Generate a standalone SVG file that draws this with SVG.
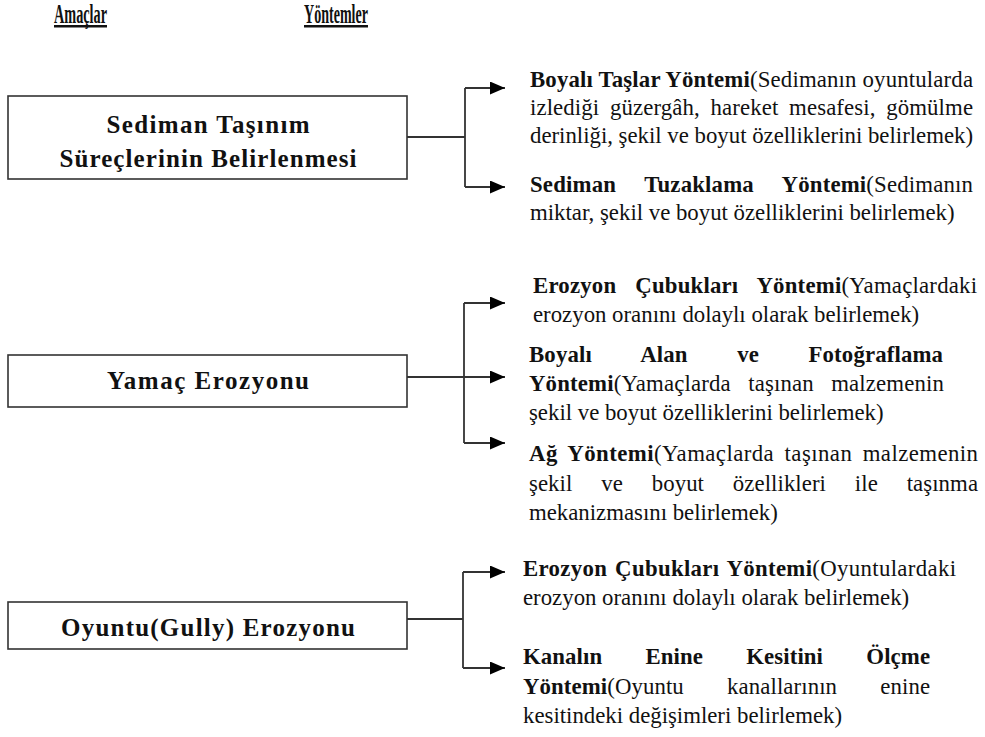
<svg xmlns="http://www.w3.org/2000/svg" width="985" height="737" viewBox="0 0 985 737">
<style>
.bx{fill:#fff;stroke:#333;stroke-width:1.6}
.c{fill:none;stroke:#333;stroke-width:1.8}
</style>
<defs>
<marker id="ah" markerUnits="userSpaceOnUse" markerWidth="16" markerHeight="13" refX="15" refY="6.5" orient="auto">
<path d="M0,0 L15,6.5 L0,13 z" fill="#000"/>
</marker>
</defs>
<rect width="985" height="737" fill="#fff"/>
<g id="headers" font-family="Liberation Serif, serif" font-weight="bold" font-size="28" fill="#111">
<text transform="translate(54,23) scale(0.509,1)">Amaçlar</text>
<rect x="54" y="25" width="53" height="2.5"/>
<text transform="translate(304,23) scale(0.502,1)">Yöntemler</text>
<rect x="304" y="25" width="64" height="2.5"/>
</g>
<g id="connectors">
<path class="c" d="M407,137 H465 M465,88 V187"/>
<path class="c" d="M465,88 H505" marker-end="url(#ah)"/>
<path class="c" d="M465,187 H505" marker-end="url(#ah)"/>
<path class="c" d="M407,377 H464 M464,303 V443"/>
<path class="c" d="M464,303 H505" marker-end="url(#ah)"/>
<path class="c" d="M464,377 H505" marker-end="url(#ah)"/>
<path class="c" d="M464,443 H505" marker-end="url(#ah)"/>
<path class="c" d="M407,619 H463 M463,572 V668"/>
<path class="c" d="M463,572 H505" marker-end="url(#ah)"/>
<path class="c" d="M463,668 H505" marker-end="url(#ah)"/>
</g>
<g font-family="Liberation Serif, serif" font-weight="bold" font-size="25" fill="#111" text-anchor="middle">
<g id="amac1">
<rect class="bx" x="8" y="96" width="399" height="83"/>
<text x="208" y="133" textLength="203">Sediman Taşınım</text>
<text x="208" y="167" textLength="297">Süreçlerinin Belirlenmesi</text>
</g>
<g id="amac2">
<rect class="bx" x="8" y="355" width="399" height="52"/>
<text x="208" y="389" textLength="202">Yamaç Erozyonu</text>
</g>
<g id="amac3">
<rect class="bx" x="8" y="602" width="399" height="47"/>
<text x="208" y="636" textLength="294">Oyuntu(Gully) Erozyonu</text>
</g>
</g>
<g font-family="Liberation Serif, serif" font-size="22.8" fill="#111">
<g id="yontem1a">
<text x="530" y="87" textLength="443"><tspan font-weight="bold">Boyalı Taşlar Yöntemi</tspan>(Sedimanın oyuntularda</text>
<text x="530" y="115" textLength="443" word-spacing="5">izlediği güzergâh, hareket mesafesi, gömülme</text>
<text x="530" y="143" textLength="443">derinliği, şekil ve boyut özelliklerini belirlemek)</text>
</g>
<g id="yontem1b">
<text x="530" y="192" textLength="443" word-spacing="22.7"><tspan font-weight="bold">Sediman Tuzaklama Yöntemi</tspan>(Sedimanın</text>
<text x="530" y="220">miktar, şekil ve boyut özelliklerini belirlemek)</text>
</g>
<g id="yontem2a">
<text x="533" y="293" textLength="444" word-spacing="13"><tspan font-weight="bold">Erozyon Çubukları Yöntemi</tspan>(Yamaçlardaki</text>
<text x="533" y="322">erozyon oranını dolaylı olarak belirlemek)</text>
</g>
<g id="yontem2b">
<text x="529" y="362" textLength="414" word-spacing="43.7" font-weight="bold">Boyalı Alan ve Fotoğraflama</text>
<text x="529" y="391" textLength="415" word-spacing="11.4"><tspan font-weight="bold">Yöntemi</tspan>(Yamaçlarda taşınan malzemenin</text>
<text x="529" y="420">şekil ve boyut özelliklerini belirlemek)</text>
</g>
<g id="yontem2c">
<text x="529" y="461" textLength="449" word-spacing="4.3"><tspan font-weight="bold">Ağ Yöntemi</tspan>(Yamaçlarda taşınan  malzemenin</text>
<text x="529" y="491" textLength="449" word-spacing="23.1">şekil ve boyut özellikleri ile taşınma</text>
<text x="529" y="520">mekanizmasını belirlemek)</text>
</g>
<g id="yontem3a">
<text x="523" y="576" textLength="433" word-spacing="1.8"><tspan font-weight="bold">Erozyon Çubukları Yöntemi</tspan>(Oyuntulardaki</text>
<text x="523" y="605">erozyon oranını dolaylı olarak belirlemek)</text>
</g>
<g id="yontem3b">
<text x="523" y="664" textLength="407" word-spacing="37.5" font-weight="bold">Kanalın Enine Kesitini Ölçme</text>
<text x="523" y="694" textLength="407" word-spacing="37.4"><tspan font-weight="bold">Yöntemi</tspan>(Oyuntu kanallarının enine</text>
<text x="523" y="723">kesitindeki değişimleri belirlemek)</text>
</g>
</g>
</svg>
